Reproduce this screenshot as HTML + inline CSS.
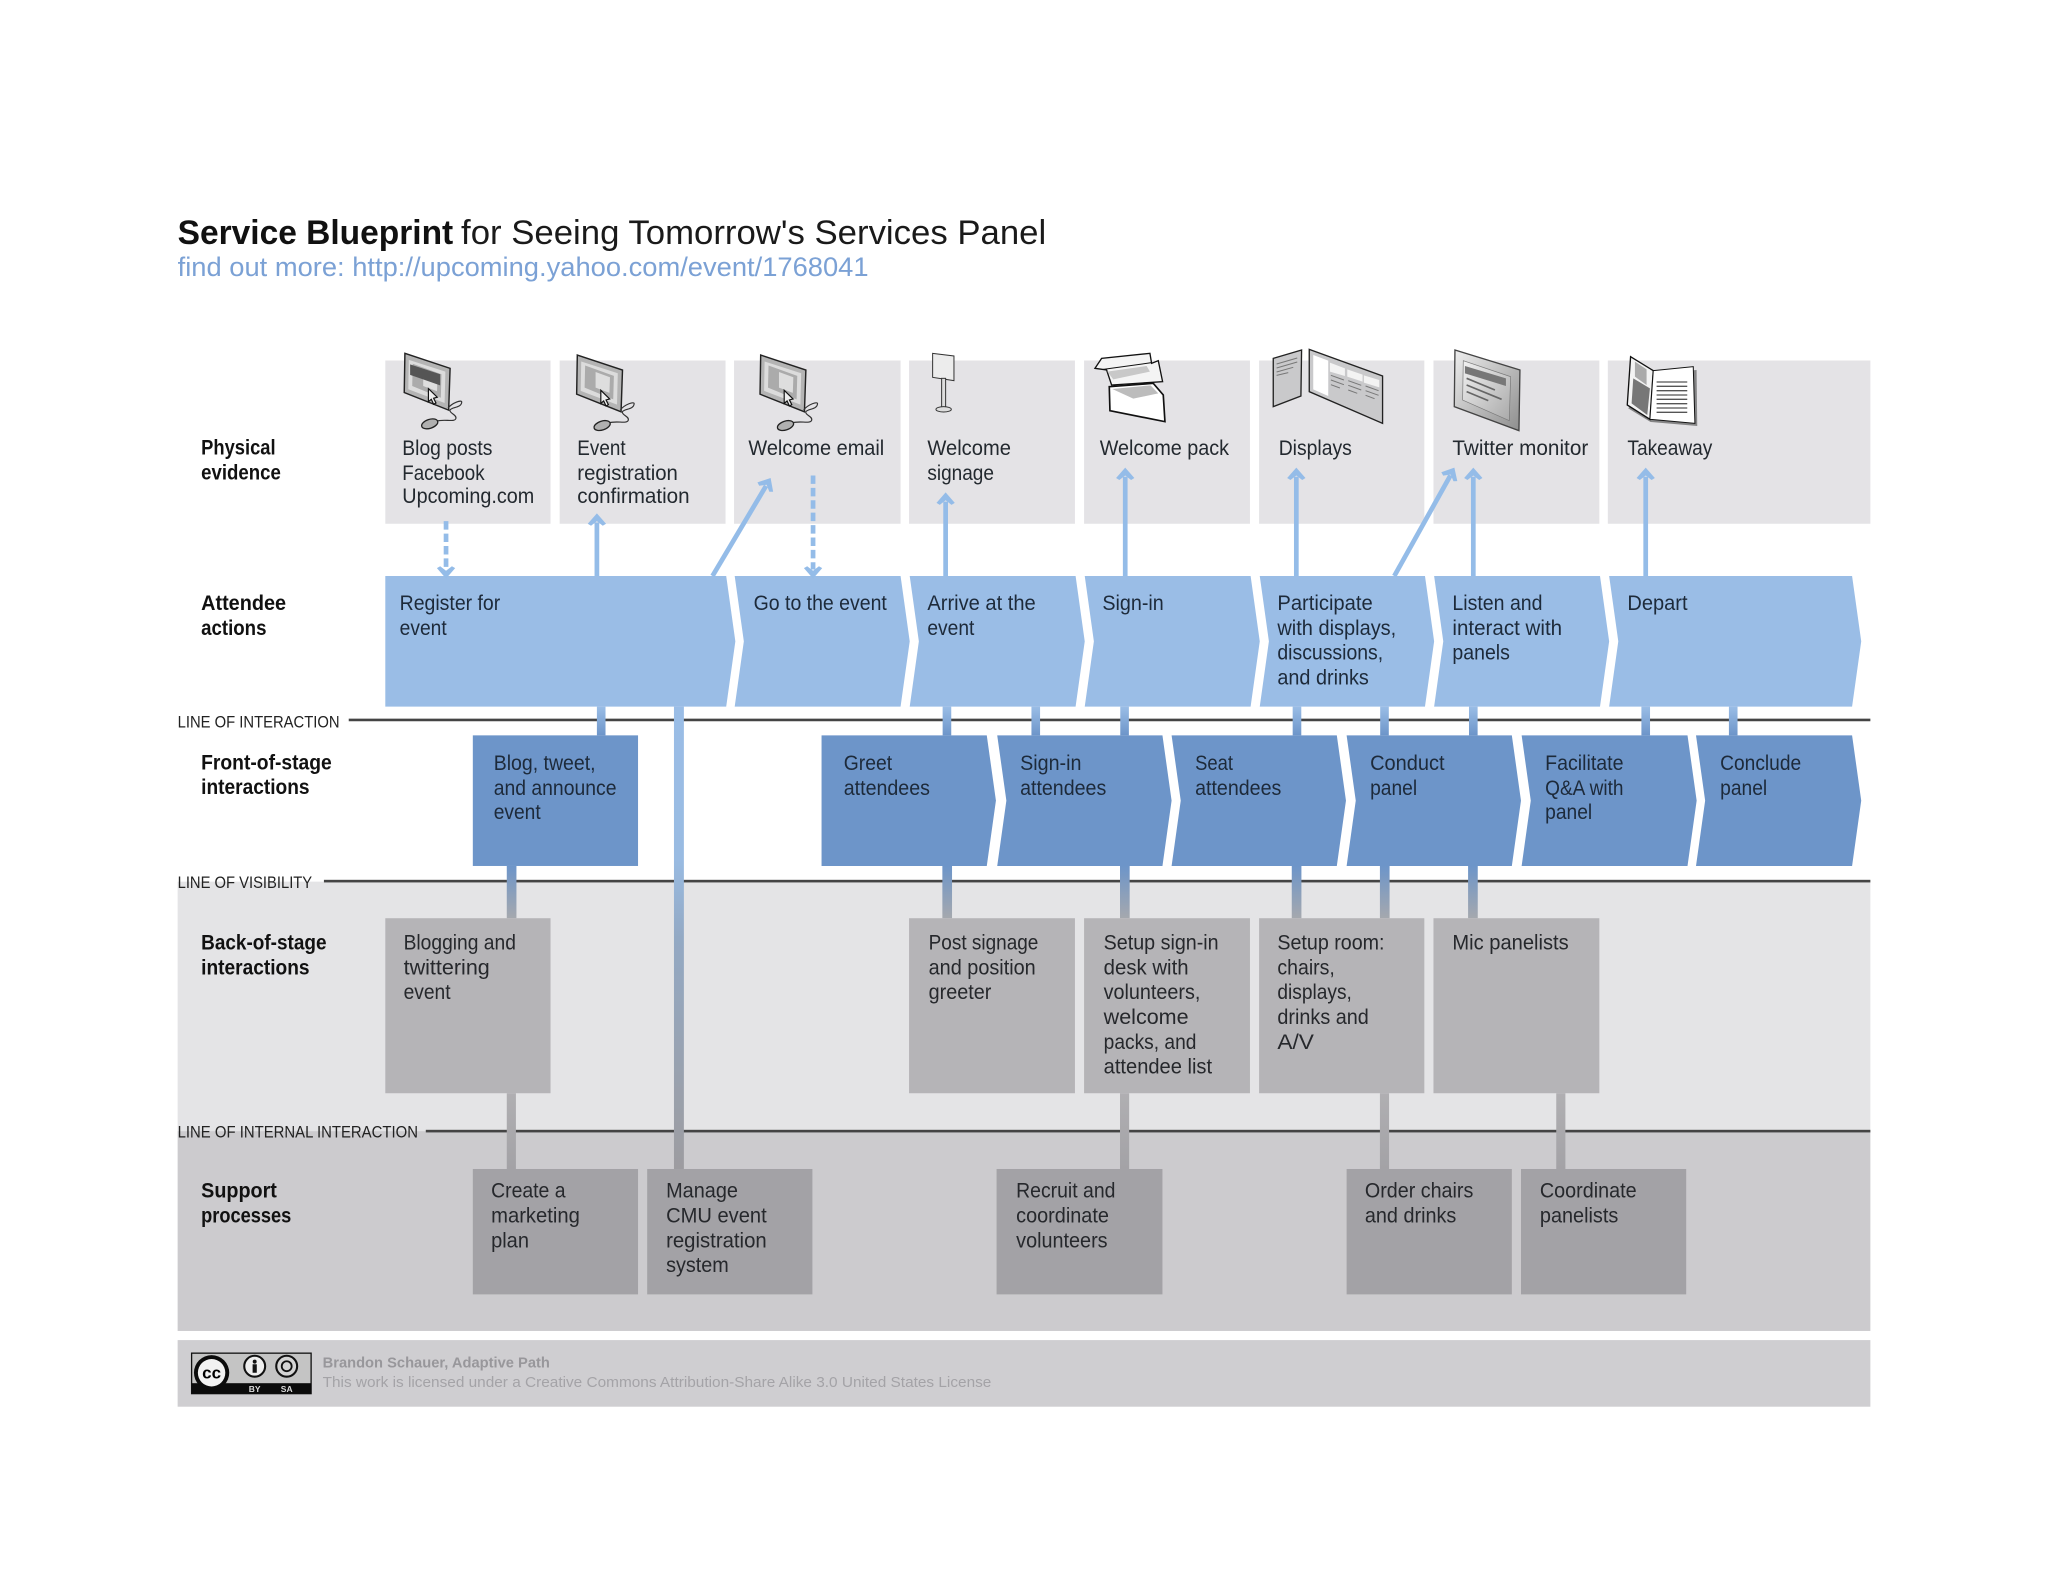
<!DOCTYPE html>
<html lang="en"><head><meta charset="utf-8"><title>Service Blueprint</title>
<style>
html,body{margin:0;padding:0;background:#fff;width:2048px;height:1582px;overflow:hidden}
svg{display:block}
text{font-family:"Liberation Sans",sans-serif;font-size:16px;fill:#23292f}
.b{font-weight:bold;fill:#111}
.l{font-size:13px;fill:#222}
.f{fill:#1d2a3a}
.g{fill:#26282c}
</style></head><body>
<svg xmlns="http://www.w3.org/2000/svg" width="2048" height="1582" viewBox="0 0 1568 1211.2">
<defs>
<linearGradient id="gA" gradientUnits="userSpaceOnUse" x1="0" y1="541" x2="0" y2="563"><stop offset="0" stop-color="#9abde6"/><stop offset="1" stop-color="#6d95c9"/></linearGradient>
<linearGradient id="gB" gradientUnits="userSpaceOnUse" x1="0" y1="663" x2="0" y2="703"><stop offset="0" stop-color="#6d95c9"/><stop offset="1" stop-color="#a5a8ae"/></linearGradient>
<linearGradient id="gC" gradientUnits="userSpaceOnUse" x1="0" y1="837" x2="0" y2="895"><stop offset="0" stop-color="#b0afb2"/><stop offset="1" stop-color="#a3a2a6"/></linearGradient>
<linearGradient id="gL" gradientUnits="userSpaceOnUse" x1="0" y1="541" x2="0" y2="895"><stop offset="0" stop-color="#9abde6"/><stop offset=".33" stop-color="#99bbe2"/><stop offset=".5" stop-color="#93a9c4"/><stop offset="1" stop-color="#9d9ca0"/></linearGradient>
<linearGradient id="gM" x1="0" y1="0" x2="1" y2="1"><stop offset="0" stop-color="#eee"/><stop offset="1" stop-color="#8e8e8e"/></linearGradient>
<linearGradient id="gS" x1="0" y1="0" x2="1" y2="1"><stop offset="0" stop-color="#f2f2f2"/><stop offset="1" stop-color="#a9a9a9"/></linearGradient>
<g id="mon">
<polygon points="0,0 34.6,11.5 33.5,43.5 -.5,30" fill="#b4b4b4" stroke="#222" stroke-width="1.1"/>
<polygon points="3,5 31,14 30.4,38 2.6,27.5" fill="#dcdcdc"/>
<polygon points="6,8 28,16 27.5,34 5.6,25" fill="#ababab"/>
<polygon points="14,13 25,17 24.6,29 14,25" fill="#dedede"/>
<path d="M33,42 C36,38 44,35 43.5,37.5 C43,42 36,41 34.5,43.5 C34,46 40,47 39,50 C38,53 30,50 24,52" fill="none" stroke="#333" stroke-width=".9"/>
<ellipse cx="19" cy="54" rx="6.4" ry="3.4" transform="rotate(-18 19 54)" fill="#b0b0b0" stroke="#222" stroke-width="1"/>
<polygon points="18,27 18,37 20.2,35.2 22,39 23.8,38 22,34.4 24.8,33.6" fill="#eee" stroke="#111" stroke-width=".9"/>
</g>
<polygon id="up" points="0,0 7,8 4.5,9.5 0,6 -4.5,9.5 -7,8" fill="#94bce8"/>
</defs>

<!-- bands -->
<rect x="136" y="675" width="1296" height="191" fill="#e4e4e6"/>
<rect x="136" y="866" width="1296" height="153" fill="#cccbce"/>
<rect x="136" y="1026" width="1296" height="51" fill="#cfced1"/>

<!-- physical evidence boxes -->
<g fill="#e4e3e6">
<rect x="295" y="276" width="126.5" height="125"/>
<rect x="428.5" y="276" width="127" height="125"/>
<rect x="562" y="276" width="127.5" height="125"/>
<rect x="696" y="276" width="127" height="125"/>
<rect x="830" y="276" width="127" height="125"/>
<rect x="964" y="276" width="126.5" height="125"/>
<rect x="1097.5" y="276" width="127" height="125"/>
<rect x="1231" y="276" width="201" height="125"/>
</g>

<!-- lines -->
<g fill="#444">
<rect x="267" y="550.2" width="1165" height="2"/>
<rect x="248" y="673.6" width="1184" height="2"/>
<rect x="326" y="865" width="1106" height="2"/>
</g>

<!-- connectors -->
<g fill="url(#gA)">
<rect x="457" y="541" width="6.6" height="22"/>
<rect x="721.7" y="541" width="6.6" height="22"/>
<rect x="789.7" y="541" width="6.6" height="22"/>
<rect x="857.7" y="541" width="6.6" height="22"/>
<rect x="989.7" y="541" width="6.6" height="22"/>
<rect x="1056.7" y="541" width="6.6" height="22"/>
<rect x="1124.7" y="541" width="6.6" height="22"/>
<rect x="1256.7" y="541" width="6.6" height="22"/>
<rect x="1323.7" y="541" width="6.6" height="22"/>
</g>
<rect x="516" y="541" width="7.6" height="354" fill="url(#gL)"/>
<g fill="url(#gB)">
<rect x="388" y="663" width="7.4" height="40"/>
<rect x="721.5" y="663" width="7.4" height="40"/>
<rect x="857.5" y="663" width="7.4" height="40"/>
<rect x="989" y="663" width="7.4" height="40"/>
<rect x="1056.5" y="663" width="7.4" height="40"/>
<rect x="1124" y="663" width="7.4" height="40"/>
</g>
<g fill="url(#gC)">
<rect x="388" y="837" width="7" height="58"/>
<rect x="857.5" y="837" width="7" height="58"/>
<rect x="1056.5" y="837" width="7" height="58"/>
<rect x="1191.5" y="837" width="7" height="58"/>
</g>

<!-- attendee chevrons -->
<g fill="#9abde6">
<path d="M295,441H556L563,491L556,541H295Z"/>
<path d="M562.5,441H689.5L696.5,491L689.5,541H562.5L569.5,491Z"/>
<path d="M696.5,441H823.5L830.5,491L823.5,541H696.5L703.5,491Z"/>
<path d="M830.5,441H957.5L964.5,491L957.5,541H830.5L837.5,491Z"/>
<path d="M964.5,441H1091L1098,491L1091,541H964.5L971.5,491Z"/>
<path d="M1098,441H1225L1232,491L1225,541H1098L1105,491Z"/>
<path d="M1232,441H1418L1425,491L1418,541H1232L1239,491Z"/>
</g>

<!-- front of stage -->
<g fill="#6d95c9">
<rect x="362" y="563" width="126.5" height="100"/>
<path d="M629,563H755.5L762.5,613L755.5,663H629Z"/>
<path d="M763.5,563H890L897,613L890,663H763.5L770.5,613Z"/>
<path d="M897,563H1023.5L1030.5,613L1023.5,663H897L904,613Z"/>
<path d="M1031,563H1157.5L1164.5,613L1157.5,663H1031L1038,613Z"/>
<path d="M1165,563H1292L1299,613L1292,663H1165L1172,613Z"/>
<path d="M1298.5,563H1418L1425,613L1418,663H1298.5L1305.5,613Z"/>
</g>

<!-- back of stage -->
<g fill="#b5b4b7">
<rect x="295" y="703" width="126.5" height="134"/>
<rect x="696" y="703" width="127" height="134"/>
<rect x="830" y="703" width="127" height="134"/>
<rect x="964" y="703" width="126.5" height="134"/>
<rect x="1097.5" y="703" width="127" height="134"/>
</g>

<!-- support -->
<g fill="#a3a2a6">
<rect x="362" y="895" width="126.5" height="96"/>
<rect x="495.5" y="895" width="126.5" height="96"/>
<rect x="763" y="895" width="127" height="96"/>
<rect x="1031" y="895" width="126.5" height="96"/>
<rect x="1164.5" y="895" width="126.5" height="96"/>
</g>

<!-- arrows -->
<g stroke="#94bce8" stroke-width="3.6" fill="none">
<line x1="457" y1="441" x2="457" y2="400"/>
<line x1="724" y1="441" x2="724" y2="384"/>
<line x1="861.5" y1="441" x2="861.5" y2="365"/>
<line x1="992.5" y1="441" x2="992.5" y2="365"/>
<line x1="1128" y1="441" x2="1128" y2="365"/>
<line x1="1260" y1="441" x2="1260" y2="365"/>
<line x1="545.5" y1="441" x2="586.5" y2="372"/>
<line x1="1067.5" y1="441" x2="1110.5" y2="364"/>
<line x1="341.5" y1="399" x2="341.5" y2="436" stroke-dasharray="6.5 3"/>
<line x1="622.5" y1="364" x2="622.5" y2="436" stroke-dasharray="6.5 3"/>
</g>
<use href="#up" x="457" y="393"/>
<use href="#up" x="724" y="377"/>
<use href="#up" x="861.5" y="358"/>
<use href="#up" x="992.5" y="358"/>
<use href="#up" x="1128" y="358"/>
<use href="#up" x="1260" y="358"/>
<use href="#up" transform="translate(590,366) rotate(30.7)"/>
<use href="#up" transform="translate(1113.5,358) rotate(29)"/>
<use href="#up" transform="translate(341.5,443) rotate(180)"/>
<use href="#up" transform="translate(622.5,443) rotate(180)"/>

<!-- icons -->
<use href="#mon" x="310" y="270.5"/>
<polygon points="314,279 337,286.5 337,295 314,287" fill="#555"/>
<use href="#mon" x="442" y="271.8"/>
<use href="#mon" x="582.4" y="271.8"/>

<g transform="scale(.7656) translate(900,340) scale(.3333)">
<!-- sign -->
<polygon points="98,40 162,48 162,122 98,112" fill="#ececec" stroke="#333" stroke-width="3"/>
<rect x="125" y="115" width="12" height="88" fill="#ddd" stroke="#333" stroke-width="3"/>
<ellipse cx="131" cy="208" rx="23" ry="8" fill="#ddd" stroke="#333" stroke-width="3"/>
<!-- pack -->
<polygon points="585,85 605,55 750,40 755,70 775,62 788,125 635,135 620,90" fill="#f4f4f4" stroke="#111" stroke-width="4"/>
<polyline points="610,88 755,68" fill="none" stroke="#111" stroke-width="3"/>
<polygon points="622,95 740,78 750,95 640,118" fill="#c8c8c8"/>
<polygon points="628,140 760,130 790,165 795,245 630,212" fill="#fff" stroke="#111" stroke-width="5"/>
<polygon points="637,147 752,136 775,160 700,176" fill="#bcbcbc"/>
<!-- displays -->
<polygon points="1120,55 1205,30 1203,168 1120,200" fill="#c9c9cb" stroke="#222" stroke-width="4"/>
<polygon points="1228,28 1448,108 1448,250 1228,155" fill="#c9c9cb" stroke="#222" stroke-width="4"/>
<polygon points="1240,45 1285,62 1285,168 1240,148" fill="#fff"/>
<polygon points="1290,68 1335,85 1335,108 1290,95" fill="#f3f3f3"/>
<polygon points="1342,88 1388,104 1388,125 1342,110" fill="#f3f3f3"/>
<polygon points="1392,106 1438,120 1438,142 1392,128" fill="#f3f3f3"/>
<g stroke="#777" stroke-width="3" fill="none">
<path d="M1130,72L1192,54M1130,84L1192,66M1130,96L1180,82M1130,106L1165,98"/>
<path d="M1293,106L1332,120M1293,120L1332,134M1293,134L1320,144"/>
<path d="M1345,122L1384,136M1345,136L1384,150M1345,150L1372,160"/>
<path d="M1397,138L1436,152M1397,152L1436,166M1397,166L1424,176"/>
</g>
</g>

<g transform="scale(.7656) translate(1420,340) scale(.3333)">
<!-- twitter monitor -->
<polygon points="105,30 300,90 297,272 103,200" fill="url(#gM)" stroke="#444" stroke-width="4"/>
<polygon points="130,62 272,110 268,242 128,180" fill="url(#gS)" stroke="#777" stroke-width="2"/>
<polygon points="135,78 258,115 258,138 135,100" fill="#777"/>
<g stroke="#666" stroke-width="5" fill="none"><path d="M140,115L225,150M140,135L245,178M140,155L205,182"/></g>
<!-- takeaway -->
<polygon points="700,100 830,90 832,258 692,246 625,205" fill="#666" opacity=".75"/>
<polygon points="632,50 700,92 690,238 622,195" fill="#f3f3f3" stroke="#111" stroke-width="4"/>
<polygon points="700,92 820,80 825,250 690,238" fill="#fff" stroke="#111" stroke-width="3"/>
<polygon points="645,65 680,88 680,135 645,110" fill="#aaa"/>
<polygon points="640,115 690,145 682,225 635,190" fill="#777"/>
<g stroke="#555" stroke-width="4"><path d="M710,126H802M710,139H802M710,152H802M710,165H802M710,178H802M710,191H802M710,204H802M710,217H802"/></g>
</g>

<!-- title -->
<text x="136" y="187" style="font-size:26px;font-weight:bold;fill:#111" textLength="211" lengthAdjust="spacingAndGlyphs">Service Blueprint</text>
<text x="353" y="187" style="font-size:26px;fill:#1a1a1a" textLength="448" lengthAdjust="spacingAndGlyphs">for Seeing Tomorrow's Services Panel</text>
<text x="136" y="211.5" style="font-size:20.5px;fill:#7ba1d5" textLength="529" lengthAdjust="spacingAndGlyphs">find out more: http://upcoming.yahoo.com/event/1768041</text>

<!-- row labels -->
<g class="lab">
<text class="b" x="154" y="348" textLength="57" lengthAdjust="spacingAndGlyphs">Physical</text>
<text class="b" x="154" y="367" textLength="61" lengthAdjust="spacingAndGlyphs">evidence</text>
<text class="b" x="154" y="467" textLength="65" lengthAdjust="spacingAndGlyphs">Attendee</text>
<text class="b" x="154" y="486" textLength="50" lengthAdjust="spacingAndGlyphs">actions</text>
<text class="b" x="154" y="589" textLength="100" lengthAdjust="spacingAndGlyphs">Front-of-stage</text>
<text class="b" x="154" y="608" textLength="83" lengthAdjust="spacingAndGlyphs">interactions</text>
<text class="b" x="154" y="727" textLength="96" lengthAdjust="spacingAndGlyphs">Back-of-stage</text>
<text class="b" x="154" y="746" textLength="83" lengthAdjust="spacingAndGlyphs">interactions</text>
<text class="b" x="154" y="917" textLength="58" lengthAdjust="spacingAndGlyphs">Support</text>
<text class="b" x="154" y="936" textLength="69" lengthAdjust="spacingAndGlyphs">processes</text>
</g>
<text class="l" x="136" y="557" textLength="124" lengthAdjust="spacingAndGlyphs">LINE OF INTERACTION</text>
<text class="l" x="136" y="680" textLength="103" lengthAdjust="spacingAndGlyphs">LINE OF VISIBILITY</text>
<text class="l" x="136" y="871" textLength="184" lengthAdjust="spacingAndGlyphs">LINE OF INTERNAL INTERACTION</text>

<!-- physical text -->
<text x="308" y="348.5" textLength="69" lengthAdjust="spacingAndGlyphs">Blog posts</text>
<text x="308" y="367.5" textLength="63" lengthAdjust="spacingAndGlyphs">Facebook</text>
<text x="308" y="385" textLength="101" lengthAdjust="spacingAndGlyphs">Upcoming.com</text>
<text x="442" y="348.5" textLength="37" lengthAdjust="spacingAndGlyphs">Event</text>
<text x="442" y="367.5" textLength="77" lengthAdjust="spacingAndGlyphs">registration</text>
<text x="442" y="385" textLength="86" lengthAdjust="spacingAndGlyphs">confirmation</text>
<text x="573" y="348.5" textLength="104" lengthAdjust="spacingAndGlyphs">Welcome email</text>
<text x="710" y="348.5" textLength="64" lengthAdjust="spacingAndGlyphs">Welcome</text>
<text x="710" y="367.5" textLength="51" lengthAdjust="spacingAndGlyphs">signage</text>
<text x="842" y="348.5" textLength="99" lengthAdjust="spacingAndGlyphs">Welcome pack</text>
<text x="979" y="348.5" textLength="56" lengthAdjust="spacingAndGlyphs">Displays</text>
<text x="1112" y="348.5" textLength="104" lengthAdjust="spacingAndGlyphs">Twitter monitor</text>
<text x="1246" y="348.5" textLength="65" lengthAdjust="spacingAndGlyphs">Takeaway</text>

<!-- attendee text -->
<text class="f" x="306" y="467" textLength="77" lengthAdjust="spacingAndGlyphs">Register for</text>
<text class="f" x="306" y="486" textLength="36" lengthAdjust="spacingAndGlyphs">event</text>
<text class="f" x="577" y="467" textLength="102" lengthAdjust="spacingAndGlyphs">Go to the event</text>
<text class="f" x="710" y="467" textLength="83" lengthAdjust="spacingAndGlyphs">Arrive at the</text>
<text class="f" x="710" y="486" textLength="36" lengthAdjust="spacingAndGlyphs">event</text>
<text class="f" x="844" y="467" textLength="47" lengthAdjust="spacingAndGlyphs">Sign-in</text>
<text class="f" x="978" y="467" textLength="73" lengthAdjust="spacingAndGlyphs">Participate</text>
<text class="f" x="978" y="486" textLength="91" lengthAdjust="spacingAndGlyphs">with displays,</text>
<text class="f" x="978" y="505" textLength="81" lengthAdjust="spacingAndGlyphs">discussions,</text>
<text class="f" x="978" y="524" textLength="70" lengthAdjust="spacingAndGlyphs">and drinks</text>
<text class="f" x="1112" y="467" textLength="69" lengthAdjust="spacingAndGlyphs">Listen and</text>
<text class="f" x="1112" y="486" textLength="84" lengthAdjust="spacingAndGlyphs">interact with</text>
<text class="f" x="1112" y="505" textLength="44" lengthAdjust="spacingAndGlyphs">panels</text>
<text class="f" x="1246" y="467" textLength="46" lengthAdjust="spacingAndGlyphs">Depart</text>

<!-- front text -->
<text class="f" x="378" y="589.5" textLength="78" lengthAdjust="spacingAndGlyphs">Blog, tweet,</text>
<text class="f" x="378" y="608.5" textLength="94" lengthAdjust="spacingAndGlyphs">and announce</text>
<text class="f" x="378" y="627" textLength="36" lengthAdjust="spacingAndGlyphs">event</text>
<text class="f" x="646" y="589.5" textLength="37" lengthAdjust="spacingAndGlyphs">Greet</text>
<text class="f" x="646" y="608.5" textLength="66" lengthAdjust="spacingAndGlyphs">attendees</text>
<text class="f" x="781" y="589.5" textLength="47" lengthAdjust="spacingAndGlyphs">Sign-in</text>
<text class="f" x="781" y="608.5" textLength="66" lengthAdjust="spacingAndGlyphs">attendees</text>
<text class="f" x="915" y="589.5" textLength="29" lengthAdjust="spacingAndGlyphs">Seat</text>
<text class="f" x="915" y="608.5" textLength="66" lengthAdjust="spacingAndGlyphs">attendees</text>
<text class="f" x="1049" y="589.5" textLength="57" lengthAdjust="spacingAndGlyphs">Conduct</text>
<text class="f" x="1049" y="608.5" textLength="36" lengthAdjust="spacingAndGlyphs">panel</text>
<text class="f" x="1183" y="589.5" textLength="60" lengthAdjust="spacingAndGlyphs">Facilitate</text>
<text class="f" x="1183" y="608.5" textLength="60" lengthAdjust="spacingAndGlyphs">Q&amp;A with</text>
<text class="f" x="1183" y="627" textLength="36" lengthAdjust="spacingAndGlyphs">panel</text>
<text class="f" x="1317" y="589.5" textLength="62" lengthAdjust="spacingAndGlyphs">Conclude</text>
<text class="f" x="1317" y="608.5" textLength="36" lengthAdjust="spacingAndGlyphs">panel</text>

<!-- back text -->
<text class="g" x="309" y="727" textLength="86" lengthAdjust="spacingAndGlyphs">Blogging and</text>
<text class="g" x="309" y="746" textLength="66" lengthAdjust="spacingAndGlyphs">twittering</text>
<text class="g" x="309" y="765" textLength="36" lengthAdjust="spacingAndGlyphs">event</text>
<text class="g" x="711" y="727" textLength="84" lengthAdjust="spacingAndGlyphs">Post signage</text>
<text class="g" x="711" y="746" textLength="82" lengthAdjust="spacingAndGlyphs">and position</text>
<text class="g" x="711" y="765" textLength="48" lengthAdjust="spacingAndGlyphs">greeter</text>
<text class="g" x="845" y="727" textLength="88" lengthAdjust="spacingAndGlyphs">Setup sign-in</text>
<text class="g" x="845" y="746" textLength="65" lengthAdjust="spacingAndGlyphs">desk with</text>
<text class="g" x="845" y="765" textLength="74" lengthAdjust="spacingAndGlyphs">volunteers,</text>
<text class="g" x="845" y="784" textLength="65" lengthAdjust="spacingAndGlyphs">welcome</text>
<text class="g" x="845" y="803" textLength="71" lengthAdjust="spacingAndGlyphs">packs, and</text>
<text class="g" x="845" y="822" textLength="83" lengthAdjust="spacingAndGlyphs">attendee list</text>
<text class="g" x="978" y="727" textLength="82" lengthAdjust="spacingAndGlyphs">Setup room:</text>
<text class="g" x="978" y="746" textLength="44" lengthAdjust="spacingAndGlyphs">chairs,</text>
<text class="g" x="978" y="765" textLength="57" lengthAdjust="spacingAndGlyphs">displays,</text>
<text class="g" x="978" y="784" textLength="70" lengthAdjust="spacingAndGlyphs">drinks and</text>
<text class="g" x="978" y="803" textLength="28" lengthAdjust="spacingAndGlyphs">A/V</text>
<text class="g" x="1112" y="727" textLength="89" lengthAdjust="spacingAndGlyphs">Mic panelists</text>

<!-- support text -->
<text class="g" x="376" y="917" textLength="57" lengthAdjust="spacingAndGlyphs">Create a</text>
<text class="g" x="376" y="936" textLength="68" lengthAdjust="spacingAndGlyphs">marketing</text>
<text class="g" x="376" y="955" textLength="29" lengthAdjust="spacingAndGlyphs">plan</text>
<text class="g" x="510" y="917" textLength="55" lengthAdjust="spacingAndGlyphs">Manage</text>
<text class="g" x="510" y="936" textLength="77" lengthAdjust="spacingAndGlyphs">CMU event</text>
<text class="g" x="510" y="955" textLength="77" lengthAdjust="spacingAndGlyphs">registration</text>
<text class="g" x="510" y="974" textLength="48" lengthAdjust="spacingAndGlyphs">system</text>
<text class="g" x="778" y="917" textLength="76" lengthAdjust="spacingAndGlyphs">Recruit and</text>
<text class="g" x="778" y="936" textLength="71" lengthAdjust="spacingAndGlyphs">coordinate</text>
<text class="g" x="778" y="955" textLength="70" lengthAdjust="spacingAndGlyphs">volunteers</text>
<text class="g" x="1045" y="917" textLength="83" lengthAdjust="spacingAndGlyphs">Order chairs</text>
<text class="g" x="1045" y="936" textLength="70" lengthAdjust="spacingAndGlyphs">and drinks</text>
<text class="g" x="1179" y="917" textLength="74" lengthAdjust="spacingAndGlyphs">Coordinate</text>
<text class="g" x="1179" y="936" textLength="60" lengthAdjust="spacingAndGlyphs">panelists</text>

<!-- footer -->
<rect x="146.7" y="1036" width="91.5" height="31" fill="#c4c4c4" stroke="#111" stroke-width="1"/>
<rect x="146.7" y="1059" width="91.5" height="8" fill="#0b0b0b"/>
<circle cx="162" cy="1051" r="13.5" fill="#0b0b0b"/>
<circle cx="162" cy="1051" r="10.5" fill="#f2f2f2"/>
<text x="162" y="1055.5" text-anchor="middle" style="font-size:13px;font-weight:bold;fill:#000">cc</text>
<circle cx="195" cy="1046" r="8" fill="#eee" stroke="#111" stroke-width="1.6"/>
<circle cx="195" cy="1042.5" r="1.5" fill="#111"/>
<rect x="193.4" y="1044.5" width="3.2" height="6.5" fill="#111"/>
<circle cx="219.5" cy="1046" r="8" fill="#d4d4d4" stroke="#111" stroke-width="1.6"/>
<circle cx="219.5" cy="1046" r="3.8" fill="none" stroke="#111" stroke-width="1.4"/>
<text x="195" y="1065.8" text-anchor="middle" style="font-size:6.5px;font-weight:bold;fill:#ddd">BY</text>
<text x="219.5" y="1065.8" text-anchor="middle" style="font-size:6.5px;font-weight:bold;fill:#ddd">SA</text>
<text x="247" y="1047" style="font-size:11.5px;font-weight:bold;fill:#98979b" textLength="174" lengthAdjust="spacingAndGlyphs">Brandon Schauer, Adaptive Path</text>
<text x="247" y="1062" style="font-size:11.5px;fill:#a4a3a7" textLength="512" lengthAdjust="spacingAndGlyphs">This work is licensed under a Creative Commons Attribution-Share Alike 3.0 United States License</text>
</svg>
</body></html>
